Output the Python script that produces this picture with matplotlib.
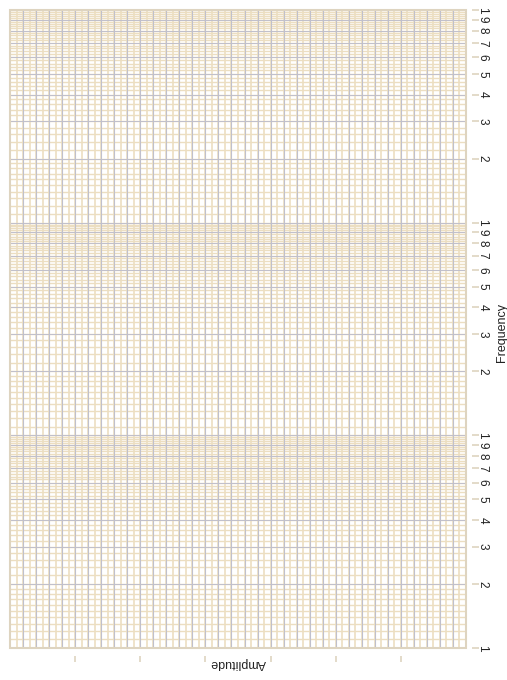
import numpy as np
import matplotlib
matplotlib.use("Agg")
import matplotlib.pyplot as plt
from matplotlib.ticker import FixedLocator, FixedFormatter, NullFormatter

plt.rcParams['font.family'] = ['Liberation Sans', 'DejaVu Sans']

# axis ranges / ticks
x_range = [0, 7]
y_range = [1, 1000]
x_ticks = [1, 2, 3, 4, 5, 6]
decades = [1, 10, 100]
mantissas = [1, 2, 3, 4, 5, 6, 7, 8, 9]

# grid spacing of the paper (finer at the bottom of each decade)
x_fine = np.round(np.arange(0, 7.001, 0.1), 2)
x_grey = np.round(np.arange(0.2, 7.001, 0.2), 2)
sub_low = np.round(np.arange(1.0, 1.96, 0.1), 2)
sub_high = np.round(np.arange(2.0, 9.9, 0.2), 2)
y_fine = [d * m for d in decades for m in list(sub_low) + list(sub_high)] + [1000]
y_grey = [d * m for d in decades for m in mantissas] + [1000]

y_ticks = [d * m for d in decades for m in mantissas] + [1000]
y_labels = [str(m) for d in decades for m in mantissas] + ['1']

beige = '#ecdec1'
grey = '#c0c0cc'
frame = '#ded4c0'

fig = plt.figure(figsize=(5.07, 6.80), dpi=100)
ax = fig.add_axes([10 / 507, 32 / 680, 456 / 507, 638 / 680])
ax.set_yscale('log')
ax.set_xlim(x_range)
ax.set_ylim(y_range)

ax.vlines(x_fine, y_range[0], y_range[1], color=beige, lw=1.2, zorder=1)
ax.hlines(y_fine, x_range[0], x_range[1], color=beige, lw=1.0, zorder=2)
ax.vlines(x_grey, y_range[0], y_range[1], color=grey, lw=0.8, zorder=3)
ax.hlines(y_grey, x_range[0], x_range[1], color=grey, lw=0.7, zorder=3)

# frame drawn as a patch so the ticks can sit apart from it
ax.add_patch(plt.Rectangle((0, 0), 1, 1, transform=ax.transAxes, fill=False,
                           edgecolor=frame, lw=1.5, zorder=4, clip_on=False))
for s in ['top', 'left', 'bottom', 'right']:
    ax.spines[s].set_visible(False)
ax.spines['bottom'].set_position(('outward', 6))
ax.spines['right'].set_position(('outward', 4))

ax.xaxis.set_major_locator(FixedLocator(x_ticks))
ax.xaxis.set_major_formatter(NullFormatter())
ax.xaxis.set_minor_locator(FixedLocator([]))
ax.tick_params(axis='x', which='major', length=4, width=1.2, color=frame)

ax.yaxis.tick_right()
ax.yaxis.set_major_locator(FixedLocator(y_ticks))
ax.yaxis.set_major_formatter(FixedFormatter(y_labels))
ax.yaxis.set_minor_locator(FixedLocator([]))
ax.yaxis.set_minor_formatter(NullFormatter())
ax.tick_params(axis='y', which='major', length=5, width=1.2, color=frame,
               labelsize=8.5, labelcolor='#222222', labelrotation=-90, pad=-1.5)
for lab in ax.get_yticklabels():
    lab.set_verticalalignment('center')

ax.set_xlabel('Amplitude', rotation=180, fontsize=9, color='#222222',
              ha='center', va='center')
ax.xaxis.set_label_coords(0.5, -15 / 638)
ax.set_ylabel('Frequency', rotation=90, fontsize=9, color='#222222',
              ha='center', va='center')
ax.yaxis.set_label_position('right')
ax.yaxis.set_label_coords(1 + 30 / 456, 0.495)

fig.savefig('out.png', dpi=100)
